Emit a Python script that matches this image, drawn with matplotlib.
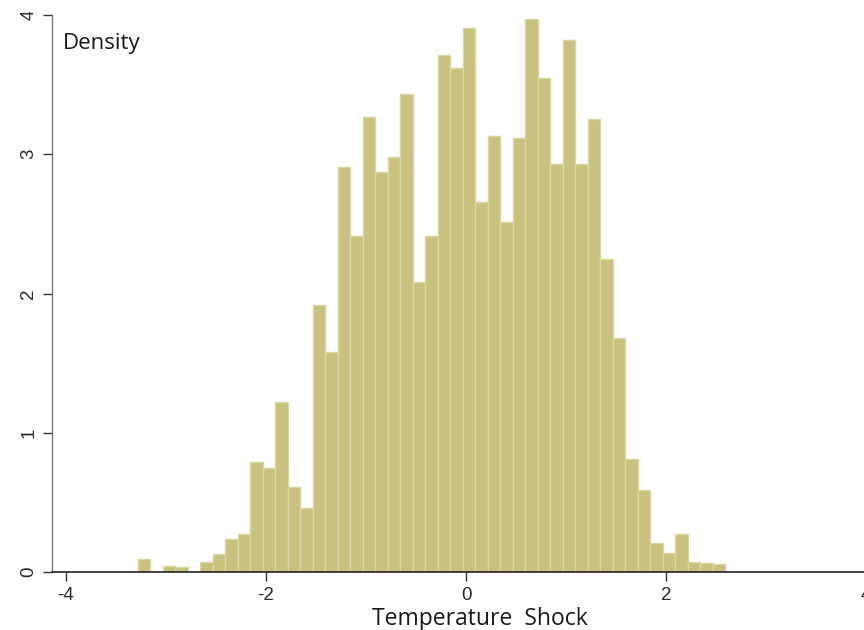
import numpy as np
import matplotlib
matplotlib.use("Agg")
import matplotlib.pyplot as plt
from matplotlib.transforms import Bbox

# ---- data ----
bin_start = -3.28
bin_end = 2.59
density = [0.09, 0.0, 0.045, 0.033, 0.0, 0.074, 0.13, 0.235, 0.275, 0.79,
           0.75, 1.22, 0.61, 0.46, 1.92, 1.58, 2.91, 2.41, 3.27, 2.87,
           2.98, 3.43, 2.08, 2.41, 3.71, 3.62, 3.91, 2.66, 3.13, 2.51,
           3.12, 3.97, 3.55, 2.93, 3.82, 2.93, 3.25, 2.25, 1.68, 0.81,
           0.59, 0.21, 0.14, 0.27, 0.074, 0.067, 0.055]
x_ticks = [-4, -2, 0, 2, 4]
y_ticks = [0, 1, 2, 3, 4]
x_label = "Temperature  Shock"
y_title = "Density"

edges = np.linspace(bin_start, bin_end, len(density) + 1)
widths = np.diff(edges)

W, H = 864, 630
fig = plt.figure(figsize=(W / 100, H / 100), dpi=100)
fig.patch.set_facecolor("white")
# axes in pixel coords: left 52, right 880, bottom y=572, top y=15
ax = fig.add_axes([52 / W, (H - 572) / H, (880 - 52) / W, (572 - 15) / H])
ax.set_facecolor("white")

ax.bar(edges[:-1], density, width=widths, align="edge",
       color="#c9c17f", edgecolor="#dbd6a2", linewidth=1.0, zorder=2)

ax.set_xlim(-4.14, 4.14)
ax.set_ylim(0, 4)
ax.set_xticks(x_ticks)
ax.set_yticks(y_ticks)
ax.set_xticklabels([str(t) for t in x_ticks], fontsize=13.5,
                   family="Liberation Sans", color="#2a2a2a")
ylabels = ax.set_yticklabels([str(t) for t in y_ticks], fontsize=13.5,
                             family="Liberation Sans", color="#2a2a2a",
                             rotation=90, va="center")
ax.tick_params(axis="x", direction="out", length=6.5, width=1,
               color="#333333", pad=4.5)
ax.tick_params(axis="y", direction="out", length=6.5, width=1,
               color="#333333", pad=4)

# the top label is cut by the image edge in the reference
ylabels[-1].set_clip_box(Bbox([[0, 0], [W, H - 12]]))
ylabels[-1].set_clip_on(True)

for s in ["top", "right"]:
    ax.spines[s].set_visible(False)
ax.spines["left"].set_color("#7a7a7a")
ax.spines["left"].set_linewidth(1.0)
ax.spines["bottom"].set_color("#222222")
ax.spines["bottom"].set_linewidth(1.2)

fig.text(63 / W, 1 - 49 / H, y_title, fontsize=16, family="Open Sans",
         color="#1a1a1a", ha="left", va="baseline")
fig.text(480 / W, 1 - 625 / H, x_label, fontsize=16.5, family="Open Sans",
         color="#1a1a1a", ha="center", va="baseline")

fig.savefig("out.png", dpi=100, facecolor="white")
